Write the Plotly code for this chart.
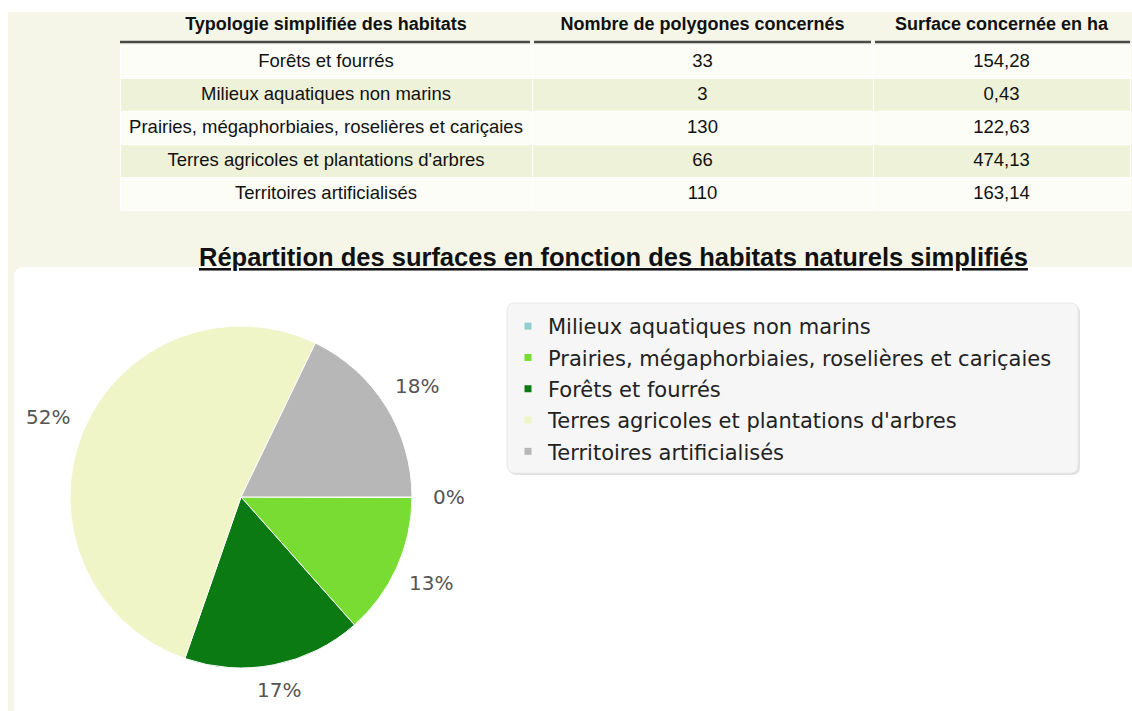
import math
import plotly.graph_objects as go

# Habitat table (order as listed in the table)
habitats = [
    "Forêts et fourrés",
    "Milieux aquatiques non marins",
    "Prairies, mégaphorbiaies, roselières et cariçaies",
    "Terres agricoles et plantations d'arbres",
    "Territoires artificialisés",
]
polygones = [33, 3, 130, 66, 110]
surfaces_ha = [154.28, 0.43, 122.63, 474.13, 163.14]

table_headers = [
    "Typologie simplifiée des habitats",
    "Nombre de polygones concernés",
    "Surface concernée en ha",
]

# Pie / legend order and colours
pie_order = [1, 2, 0, 3, 4]
pie_colors = ["#8fcfcf", "#78dc32", "#0b7a12", "#eff5c6", "#b7b7b7"]

title_text = "Répartition des surfaces en fonction des habitats naturels simplifiés"

W, H = 1132, 711
CREAM = "#f5f6e8"
ROW_GREEN = "#eef2d8"
ROW_WHITE = "#fdfdf8"


def px(x):
    return x / W


def py(y):
    return 1 - y / H


def rrect_path(x0, y0, x1, y1, r):
    pts = [
        ("M", [(x0 + r, y0)]),
        ("L", [(x1 - r, y0)]),
        ("Q", [(x1, y0), (x1, y0 + r)]),
        ("L", [(x1, y1 - r)]),
        ("Q", [(x1, y1), (x1 - r, y1)]),
        ("L", [(x0 + r, y1)]),
        ("Q", [(x0, y1), (x0, y1 - r)]),
        ("L", [(x0, y0 + r)]),
        ("Q", [(x0, y0), (x0 + r, y0)]),
    ]
    out = []
    for cmd, coords in pts:
        out.append(cmd + " ".join(f"{px(a):.5f},{py(b):.5f}" for a, b in coords))
    return " ".join(out) + " Z"


fig = go.Figure()

# ---- table ----
# non-breaking spaces keep each habitat name on a single line
habitat_cells = [h.replace(" ", "\u00a0") for h in habitats]
surf_txt = [f"{v:.2f}".replace(".", ",") for v in surfaces_ha]
row_fills = [ROW_WHITE if i % 2 == 0 else ROW_GREEN for i in range(len(habitats))]

fig.add_trace(go.Table(
    domain=dict(x=[px(120), px(1130)], y=[py(300), py(8)]),
    columnwidth=[412, 341, 257],
    header=dict(
        values=table_headers,
        fill_color="rgba(0,0,0,0)",
        line=dict(color="rgba(0,0,0,0)", width=0),
        align="center",
        height=37,
        font=dict(family="Liberation Sans", size=18, color="#111111", weight="bold"),
    ),
    cells=dict(
        values=[habitat_cells, [str(v) for v in polygones], surf_txt],
        fill_color=[row_fills] * 3,
        line=dict(color="#ffffff", width=1),
        align="center",
        height=33,
        font=dict(family="Liberation Sans", size=18.5, color="#111111"),
    ),
))

# ---- pie ----
cx, cy, r = 241, 497, 171
labels = [habitats[i] for i in pie_order]
values = [surfaces_ha[i] for i in pie_order]

fig.add_trace(go.Pie(
    labels=labels,
    values=values,
    sort=False,
    direction="clockwise",
    rotation=90,
    marker=dict(colors=pie_colors, line=dict(color="#ffffff", width=1)),
    textinfo="none",
    hoverinfo="label+percent",
    showlegend=False,
    domain=dict(x=[px(cx - r), px(cx + r)], y=[py(cy + r), py(cy - r)]),
))

# percentage labels placed outside each slice
total = sum(values)
cum = 0.0
annotations = []
for v in values:
    frac = v / total
    theta = 2 * math.pi * (cum + frac / 2)
    cum += frac
    c, s = math.cos(theta), math.sin(theta)
    dist = r + 14 + 23 * abs(c) + 7 * abs(s)
    annotations.append(dict(
        x=px(cx + dist * c), y=py(cy + dist * s),
        xref="paper", yref="paper", showarrow=False,
        text=f"{round(frac * 100)}%",
        font=dict(family="DejaVu Sans", size=20, color="#555555"),
        xanchor="center", yanchor="middle",
    ))

annotations.append(dict(
    x=px(613), y=py(257), xref="paper", yref="paper", showarrow=False,
    text=title_text, xanchor="center", yanchor="middle",
    font=dict(family="Liberation Sans", size=25.5, color="#111111",
              weight="bold", lineposition="under"),
))

# ---- legend entries ----
for name, col in zip(labels, pie_colors):
    fig.add_trace(go.Scatter(
        x=[None], y=[None], mode="markers", name=name, legendgroup=name,
        marker=dict(symbol="square", size=7, color=col),
    ))

shapes = [
    # cream page background with thin white border at top/left
    dict(type="rect", xref="paper", yref="paper", x0=px(8), x1=px(1132), y0=py(711), y1=py(12),
         fillcolor=CREAM, line_width=0, layer="below"),
    # white chart panel
    dict(type="path", xref="paper", yref="paper", path=rrect_path(14, 267, 1150, 730, 10),
         fillcolor="#ffffff", line_width=0, layer="below"),
    # legend box shadow and box
    dict(type="path", xref="paper", yref="paper", path=rrect_path(509, 305, 1080, 475, 8),
         fillcolor="#e2e2e2", line_width=0, layer="below"),
    dict(type="path", xref="paper", yref="paper", path=rrect_path(507, 303, 1078, 473, 8),
         fillcolor="#f6f6f6", line=dict(color="#e8e8e8", width=1), layer="below"),
]
# dark rule under the table header, broken at column boundaries
for x0, x1 in [(120, 530), (534, 871), (875, 1130)]:
    shapes.append(dict(type="line", xref="paper", yref="paper", x0=px(x0), x1=px(x1),
                       y0=py(42), y1=py(42), line=dict(color="#4a4a4a", width=2.5),
                       layer="above"))

fig.update_layout(
    width=W, height=H,
    margin=dict(l=0, r=0, t=0, b=0),
    paper_bgcolor="#ffffff",
    plot_bgcolor="rgba(0,0,0,0)",
    xaxis=dict(visible=False),
    yaxis=dict(visible=False),
    shapes=shapes,
    annotations=annotations,
    showlegend=True,
    legend=dict(
        x=px(508), y=py(306), xanchor="left", yanchor="top",
        bgcolor="rgba(0,0,0,0)", borderwidth=0,
        font=dict(family="DejaVu Sans", size=21, color="#222222"),
        traceorder="grouped", tracegroupgap=1,
    ),
)

fig.write_html("out.html")
